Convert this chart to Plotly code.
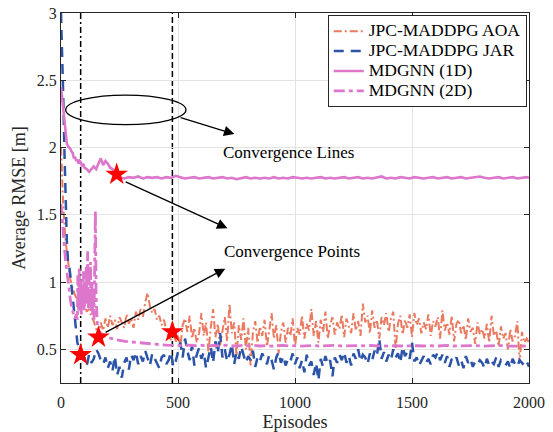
import plotly.graph_objects as go

# ---------------- data ----------------
aoa_x = list(range(0, 2001, 10))
aoa_y = [
    2.00, 1.55, 1.30, 1.15, 1.02, 0.95, 0.90, 0.86, 0.88, 0.82,
    0.84, 0.78, 0.80, 0.74, 0.71, 0.66, 0.60, 0.70, 0.64, 0.73,
    0.66, 0.75, 0.68, 0.72, 0.65, 0.74, 0.70, 0.66, 0.76, 0.69,
    0.73, 0.66, 0.78, 0.72, 0.80, 0.74, 0.85, 0.92, 0.82, 0.77,
    0.80, 0.72, 0.75, 0.68, 0.72, 0.64, 0.60, 0.57, 0.63, 0.55,
    0.60, 0.52, 0.68, 0.73, 0.63, 0.75, 0.58, 0.66, 0.55, 0.62,
    0.77, 0.60, 0.70, 0.48, 0.66, 0.80, 0.59, 0.69, 0.53, 0.63,
    0.74, 0.56, 0.84, 0.62, 0.70, 0.45, 0.68, 0.57, 0.73, 0.50,
    0.66, 0.38, 0.62, 0.71, 0.55, 0.67, 0.60, 0.72, 0.52, 0.64,
    0.77, 0.58, 0.68, 0.47, 0.63, 0.70, 0.55, 0.66, 0.60, 0.73,
    0.52, 0.66, 0.61, 0.75, 0.58, 0.69, 0.64, 0.80, 0.60, 0.71,
    0.55, 0.72, 0.63, 0.78, 0.58, 0.68, 0.74, 0.61, 0.70, 0.65,
    0.76, 0.59, 0.73, 0.67, 0.62, 0.77, 0.64, 0.71, 0.60, 0.84,
    0.70, 0.75, 0.62, 0.79, 0.66, 0.72, 0.58, 0.74, 0.68, 0.77,
    0.63, 0.73, 0.78, 0.50, 0.69, 0.75, 0.61, 0.72, 0.66, 0.76,
    0.59, 0.77, 0.68, 0.73, 0.62, 0.70, 0.65, 0.76, 0.60, 0.71,
    0.67, 0.74, 0.58, 0.79, 0.64, 0.70, 0.61, 0.75, 0.56, 0.69,
    0.72, 0.62, 0.68, 0.57, 0.73, 0.63, 0.66, 0.54, 0.70, 0.61,
    0.65, 0.58, 0.69, 0.55, 0.75, 0.60, 0.64, 0.52, 0.67, 0.58,
    0.62, 0.50, 0.65, 0.56, 0.60, 0.71, 0.40, 0.63, 0.55, 0.58,
    0.55,
]

jar_x = [0, 5, 10, 15, 20, 25, 30, 35, 40, 45, 50, 55, 60, 65, 70, 75, 80, 85, 90, 95] + list(range(100, 2001, 10))
jar_y = [
    3.00, 2.75, 2.35, 1.95, 1.60, 1.30, 1.15, 1.12, 1.05, 0.95,
    0.88, 0.80, 0.72, 0.62, 0.55, 0.52, 0.48, 0.45, 0.50, 0.42,
    0.44, 0.38, 0.46, 0.40, 0.43, 0.50, 0.47, 0.42, 0.39, 0.44,
    0.36, 0.41, 0.34, 0.45, 0.31, 0.37, 0.29, 0.40, 0.44, 0.35,
    0.46, 0.42, 0.48, 0.39, 0.45, 0.41, 0.49, 0.44, 0.38, 0.47,
    0.43, 0.40, 0.36, 0.44, 0.46, 0.39, 0.42, 0.48, 0.37, 0.41,
    0.47, 0.55, 0.44, 0.58, 0.49, 0.42, 0.53, 0.38, 0.46, 0.51,
    0.43, 0.48, 0.36, 0.45, 0.52, 0.40, 0.56, 0.47, 0.62, 0.44,
    0.50, 0.41, 0.46, 0.54, 0.39, 0.48, 0.43, 0.52, 0.46, 0.40,
    0.45, 0.42, 0.49, 0.37, 0.44, 0.41, 0.47, 0.43, 0.39, 0.46,
    0.42, 0.35, 0.44, 0.48, 0.40, 0.45, 0.38, 0.43, 0.41, 0.47,
    0.39, 0.44, 0.36, 0.42, 0.33, 0.46, 0.38, 0.41, 0.31, 0.40,
    0.27, 0.43, 0.37, 0.45, 0.39, 0.42, 0.30, 0.44, 0.40, 0.46,
    0.42, 0.48, 0.40, 0.45, 0.38, 0.47, 0.43, 0.50, 0.41, 0.46,
    0.44, 0.39, 0.47, 0.42, 0.49, 0.45, 0.58, 0.43, 0.48, 0.41,
    0.46, 0.42, 0.50, 0.44, 0.47, 0.40, 0.52, 0.45, 0.48, 0.43,
    0.55, 0.41, 0.44, 0.38, 0.42, 0.45, 0.40, 0.43, 0.39, 0.46,
    0.44, 0.48, 0.42, 0.46, 0.40, 0.45, 0.37, 0.43, 0.41, 0.44,
    0.38, 0.42, 0.36, 0.45, 0.40, 0.43, 0.37, 0.41, 0.39, 0.42,
    0.40, 0.36, 0.43, 0.38, 0.41, 0.39, 0.44, 0.37, 0.42, 0.40,
    0.38, 0.41, 0.36, 0.43, 0.39, 0.37, 0.42, 0.40, 0.38, 0.41,
    0.37,
]

g1_x = [0, 4, 8, 12, 16, 20, 25, 30, 35, 40, 45, 50, 55, 60, 65, 70, 75, 80, 85, 90, 95,
        100, 110, 120, 130, 140, 150, 160, 170, 180, 190, 200, 210, 220, 230, 240, 250] \
       + list(range(270, 2000, 20)) + [2000]
g1_y = [
    2.45, 2.38, 2.30, 2.22, 2.15, 2.08, 2.03, 2.01, 2.00, 1.99, 1.97, 1.96, 1.92, 1.93, 1.90, 1.91,
    1.88, 1.90, 1.89, 1.86, 1.88,
    1.85, 1.84, 1.82, 1.84, 1.86, 1.84, 1.88, 1.92, 1.87, 1.90, 1.88, 1.85, 1.84, 1.82, 1.80, 1.78,
    1.770, 1.780, 1.775, 1.785, 1.770, 1.780, 1.775, 1.780, 1.770, 1.780,
    1.775, 1.790, 1.780, 1.770, 1.775, 1.780, 1.770, 1.775, 1.780, 1.770,
    1.775, 1.780, 1.770, 1.775, 1.765, 1.775, 1.780, 1.770, 1.775, 1.770,
    1.775, 1.770, 1.780, 1.770, 1.775, 1.770, 1.780, 1.775, 1.770, 1.775,
    1.770, 1.775, 1.780, 1.770, 1.775, 1.770, 1.775, 1.780, 1.770, 1.775,
    1.780, 1.770, 1.775, 1.770, 1.780, 1.785, 1.770, 1.775, 1.770, 1.780,
    1.775, 1.770, 1.780, 1.775, 1.770, 1.775, 1.780, 1.770, 1.775, 1.780,
    1.770, 1.775, 1.780, 1.770, 1.775, 1.780, 1.785, 1.775, 1.770, 1.775,
    1.780, 1.770, 1.775, 1.780, 1.770, 1.775, 1.780,
    1.775,
]

g2_x = [0, 5, 10, 15, 20, 25, 30, 35, 40, 45, 50, 55, 60, 65, 70,
        72, 75, 78, 81, 84, 87, 90, 93, 96, 99, 102, 105, 108, 111, 114, 117, 120, 123, 126, 129,
        132, 135, 138, 141, 144, 147, 150, 153, 156, 160, 170, 180, 190, 200, 225, 250, 275, 300,
        325, 350, 375, 400, 425, 450, 475] + list(range(500, 2001, 25))
g2_y = [
    1.58, 1.45, 1.35, 1.25, 1.15, 1.07, 1.00, 0.93, 0.87, 0.82, 0.78, 0.75, 0.73, 0.76, 0.72,
    1.05, 0.78, 1.10, 0.80, 1.02, 0.76, 0.98, 0.82, 1.08, 0.79, 1.00, 0.85, 1.12, 0.84, 1.23,
    0.80, 1.05, 0.82, 1.15, 0.78, 1.00, 0.75, 0.95, 0.72, 1.30, 1.53, 0.90, 0.70, 0.66, 0.64,
    0.62, 0.61, 0.60, 0.59, 0.575, 0.565, 0.56, 0.555, 0.55, 0.545, 0.54, 0.538, 0.535, 0.532, 0.53,
    0.530, 0.528, 0.532, 0.527, 0.530, 0.525, 0.529, 0.526, 0.531, 0.527,
    0.524, 0.529, 0.526, 0.530, 0.525, 0.528, 0.524, 0.527, 0.530, 0.525,
    0.528, 0.524, 0.527, 0.529, 0.525, 0.528, 0.526, 0.530, 0.525, 0.527,
    0.524, 0.528, 0.526, 0.529, 0.525, 0.527, 0.523, 0.528, 0.525, 0.527,
    0.524, 0.527, 0.525, 0.528, 0.524, 0.526, 0.529, 0.525, 0.527, 0.524,
    0.526, 0.528, 0.524, 0.527, 0.525, 0.529, 0.524, 0.526, 0.528, 0.525,
    0.524,
]

names = ["JPC-MADDPG AOA", "JPC-MADDPG JAR", "MDGNN (1D)", "MDGNN (2D)"]

star_x = [84, 160, 476, 238]
star_y = [0.46, 0.59, 0.63, 1.80]

conv_line_dashdot = 84
conv_line_dashed = 476

x_ticks = [0, 500, 1000, 1500, 2000]
y_ticks = [0.5, 1, 1.5, 2, 2.5, 3]

# ---------------- figure ----------------
FONT = "Liberation Serif"
TXT = "#262626"


def leg(name):
    return '<span style="font-size:17.5px">' + name + '</span>'


fig = go.Figure()
fig.add_trace(go.Scatter(x=aoa_x, y=aoa_y, mode="lines", name=leg(names[0]),
                         line=dict(color="#EA7A60", width=2.0, dash="8px,3px,2px,3px")))
fig.add_trace(go.Scatter(x=jar_x, y=jar_y, mode="lines", name=leg(names[1]),
                         line=dict(color="#2B54A8", width=2.5, dash="10px,7px")))
fig.add_trace(go.Scatter(x=g1_x, y=g1_y, mode="lines", name=leg(names[2]),
                         line=dict(color="#DD77CC", width=2.6)))
fig.add_trace(go.Scatter(x=g2_x, y=g2_y, mode="lines", name=leg(names[3]),
                         line=dict(color="#DD77CC", width=2.8, dash="11px,4px,4px,4px")))
fig.add_trace(go.Scatter(x=star_x, y=star_y, mode="markers", showlegend=False,
                         marker=dict(symbol="star", size=17, color="#FF0000", line=dict(width=0))))

shapes = [
    dict(type="line", xref="x", yref="paper", x0=conv_line_dashdot, x1=conv_line_dashdot, y0=0, y1=1,
         line=dict(color="black", width=1.5, dash="6px,3px,2px,3px"), layer="between"),
    dict(type="line", xref="x", yref="paper", x0=conv_line_dashed, x1=conv_line_dashed, y0=0, y1=1,
         line=dict(color="black", width=1.5, dash="6px,3px"), layer="between"),
    dict(type="circle", xref="x", yref="y", x0=20, x1=534, y0=2.17, y1=2.39,
         line=dict(color="black", width=1.3)),
]

annotations = [
    dict(x=741, y=2.10, ax=505, ay=2.226, xref="x", yref="y", axref="x", ayref="y",
         showarrow=True, arrowhead=2, arrowsize=1.6, arrowwidth=1.3, arrowcolor="black", text=""),
    dict(x=711, y=1.40, ax=270, ay=1.75, xref="x", yref="y", axref="x", ayref="y",
         showarrow=True, arrowhead=2, arrowsize=1.6, arrowwidth=1.3, arrowcolor="black", text=""),
    dict(x=702, y=1.10, ax=184, ay=0.62, xref="x", yref="y", axref="x", ayref="y",
         showarrow=True, arrowhead=2, arrowsize=1.6, arrowwidth=1.3, arrowcolor="black", text=""),
    dict(x=683, y=1.965, xref="x", yref="y", text="Convergence Lines", showarrow=False,
         xanchor="left", yanchor="middle", font=dict(family=FONT, size=17, color="black")),
    dict(x=687, y=1.23, xref="x", yref="y", text="Convergence Points", showarrow=False,
         xanchor="left", yanchor="middle", font=dict(family=FONT, size=17, color="black")),
]

axis_common = dict(
    showgrid=True, gridcolor="#E3E3E3", gridwidth=1,
    showline=True, linecolor="#262626", linewidth=1, mirror="ticks",
    ticks="inside", ticklen=5, tickcolor="#262626", zeroline=False,
    tickfont=dict(family=FONT, size=16, color=TXT), automargin=False,
)

fig.update_layout(
    width=553, height=432,
    margin=dict(l=61, r=24, t=13, b=49),
    paper_bgcolor="white", plot_bgcolor="white",
    font=dict(family=FONT, color=TXT),
    xaxis=dict(range=[0, 2000], tickvals=x_ticks, ticktext=[str(v) for v in x_ticks],
               ticklabelstandoff=5,
               title=dict(text="Episodes", font=dict(family=FONT, size=18, color=TXT), standoff=13),
               **axis_common),
    yaxis=dict(range=[0.25, 3], tickvals=y_ticks, ticktext=["0.5", "1", "1.5", "2", "2.5", "3"],
               title=dict(text="Average RMSE [m]", font=dict(family=FONT, size=18, color=TXT), standoff=6),
               **axis_common),
    legend=dict(x=0.57, y=0.994, xanchor="left", yanchor="top",
                bgcolor="white", bordercolor="#262626", borderwidth=1,
                font=dict(family=FONT, size=13, color="black"),
                tracegroupgap=0, itemwidth=30),
    shapes=shapes,
    annotations=annotations,
    showlegend=True,
)

fig.write_html("out.html")
